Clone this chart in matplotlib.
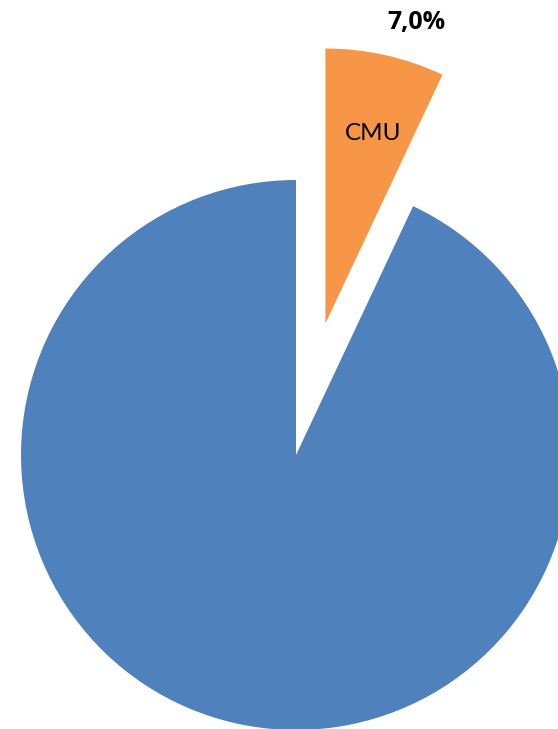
import matplotlib
matplotlib.use('Agg')
import matplotlib.pyplot as plt

# Données du camembert
labels = ['CMU', '']
values = [7.0, 93.0]
explode = [0.49, 0.0]
colors = ['#F79646', '#4F81BD']

fig = plt.figure(figsize=(5.58, 7.29), dpi=100)
ax = fig.add_axes([0, 0, 1, 1])

# centre du camembert à (296, 455) px, rayon ~275 px
R = 275.0
wedges, _ = ax.pie(values, explode=explode, colors=colors, startangle=90,
                   counterclock=False, radius=1.0,
                   wedgeprops=dict(linewidth=0))

ax.set_xlim(-296 / R, (558 - 296) / R)
ax.set_ylim(-(729 - 455) / R, 455 / R)
ax.set_aspect('equal')
ax.axis('off')

# étiquettes
ax.text((373 - 296) / R, (455 - 134) / R, labels[0], ha='center', va='center',
        fontsize=17.5, family='Lato')
ax.text((416 - 296) / R, (455 - 23) / R, '7,0%', ha='center', va='center',
        fontsize=18, family='Open Sans', fontweight='bold')

fig.savefig('out.png', dpi=100)
